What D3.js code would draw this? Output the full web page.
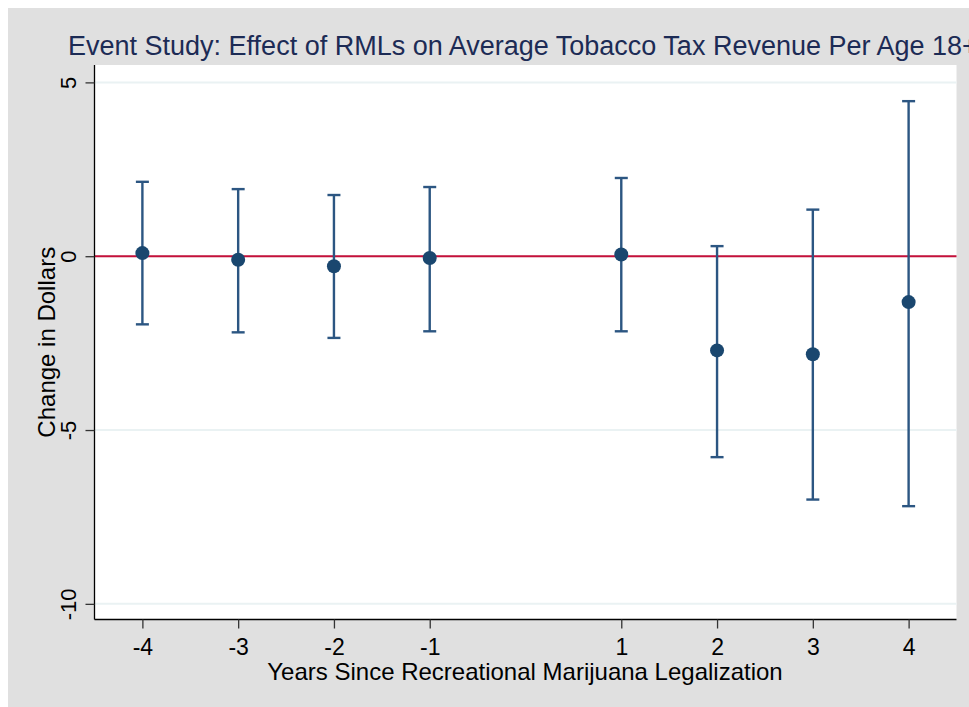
<!DOCTYPE html>
<html>
<head>
<meta charset="utf-8">
<script src="https://cdn.jsdelivr.net/npm/d3@7"></script>
<style>
  body { margin: 0; background: #ffffff; }
  svg { display: block; }
  text { font-family: "Liberation Sans", Arial, Helvetica, sans-serif; }
</style>
</head>
<body>
<svg id="chart" width="969" height="707"></svg>
<script>
// Event-study coefficients with 95% confidence intervals
const years     = [-4, -3, -2, -1, 1, 2, 3, 4];
const estimates = [0.09, -0.10, -0.29, -0.05, 0.05, -2.71, -2.82, -1.32];
const ciLower   = [-1.96, -2.19, -2.35, -2.16, -2.16, -5.78, -7.00, -7.19];
const ciUpper   = [2.14, 1.93, 1.76, 1.99, 2.25, 0.29, 1.34, 4.46];

const yTickValues = [5, 0, -5, -10];
const xTickValues = [-4, -3, -2, -1, 1, 2, 3, 4];

const titleText  = "Event Study: Effect of RMLs on Average Tobacco Tax Revenue Per Age 18+";
const xAxisTitle = "Years Since Recreational Marijuana Legalization";
const yAxisTitle = "Change in Dollars";

const points = years.map((yr, i) => ({ yr, est: estimates[i], lo: ciLower[i], hi: ciUpper[i] }));

const svg = d3.select("#chart");
const W = 969, H = 707;
const plot = { left: 94.5, right: 956.5, top: 65, bottom: 619.5 };

const x = d3.scaleLinear().domain([-4.5, 4.5]).range([plot.left, plot.right]);
const y = d3.scaleLinear().domain([-10.45, 5.5]).range([plot.bottom, plot.top]);

const navy = "#1a476f";
const ciColor = "#2c5682";
const plainInt = d => String(d);   // hyphen-minus, as in the axis labels

// outer graph region
svg.append("rect").attr("x", 8).attr("y", 8).attr("width", W - 8).attr("height", H - 8)
  .attr("fill", "#e0e0e0");

// plot region
svg.append("rect").attr("x", plot.left).attr("y", plot.top)
  .attr("width", plot.right - plot.left).attr("height", plot.bottom - plot.top)
  .attr("fill", "#ffffff");

// horizontal grid lines
svg.append("g").selectAll("line").data(yTickValues).join("line")
  .attr("x1", plot.left).attr("x2", plot.right)
  .attr("y1", d => y(d)).attr("y2", d => y(d))
  .attr("stroke", "#eaf2f3").attr("stroke-width", 2);

// reference line at zero
svg.append("line")
  .attr("x1", plot.left).attr("x2", plot.right)
  .attr("y1", y(0)).attr("y2", y(0))
  .attr("stroke", "#c5103a").attr("stroke-width", 2);

// confidence interval caps and spikes
const ci = svg.append("g").attr("stroke", ciColor).attr("stroke-width", 2.4);
const capHalf = 6.5;
ci.selectAll("line.spike").data(points).join("line").attr("class", "spike")
  .attr("x1", d => x(d.yr)).attr("x2", d => x(d.yr))
  .attr("y1", d => y(d.hi)).attr("y2", d => y(d.lo));
ci.selectAll("line.capHi").data(points).join("line").attr("class", "capHi")
  .attr("x1", d => x(d.yr) - capHalf).attr("x2", d => x(d.yr) + capHalf)
  .attr("y1", d => y(d.hi)).attr("y2", d => y(d.hi));
ci.selectAll("line.capLo").data(points).join("line").attr("class", "capLo")
  .attr("x1", d => x(d.yr) - capHalf).attr("x2", d => x(d.yr) + capHalf)
  .attr("y1", d => y(d.lo)).attr("y2", d => y(d.lo));

// point estimates
svg.append("g").selectAll("circle").data(points).join("circle")
  .attr("cx", d => x(d.yr)).attr("cy", d => y(d.est)).attr("r", 7)
  .attr("fill", navy);

// y axis
const yAxis = svg.append("g").attr("transform", `translate(${plot.left},0)`)
  .call(d3.axisLeft(y).tickValues(yTickValues).tickFormat(plainInt).tickSize(9).tickSizeOuter(0));
yAxis.select(".domain").attr("stroke", "#000").attr("stroke-width", 1.3)
  .attr("d", `M0,${plot.top}V${plot.bottom}`);
yAxis.selectAll(".tick line").attr("stroke", "#333").attr("stroke-width", 1.3);
yAxis.selectAll(".tick text")
  .attr("x", null).attr("dy", null)
  .attr("transform", "translate(-19,0) rotate(-90)")
  .attr("text-anchor", "middle")
  .attr("font-size", 22).attr("fill", "#000")
  .style("font-family", "'Liberation Sans', Arial, sans-serif");

// x axis
const xAxis = svg.append("g").attr("transform", `translate(0,${plot.bottom})`)
  .call(d3.axisBottom(x).tickValues(xTickValues).tickFormat(plainInt).tickSize(9).tickSizeOuter(0));
xAxis.select(".domain").attr("stroke", "#000").attr("stroke-width", 1.3)
  .attr("d", `M${plot.left},0H${plot.right}`);
xAxis.selectAll(".tick line").attr("stroke", "#333").attr("stroke-width", 1.3);
xAxis.selectAll(".tick text")
  .attr("y", 35).attr("dy", null)
  .attr("font-size", 23).attr("fill", "#000")
  .style("font-family", "'Liberation Sans', Arial, sans-serif");

// axis titles
svg.append("text")
  .attr("x", 525).attr("y", 680)
  .attr("text-anchor", "middle").attr("font-size", 24).attr("fill", "#000")
  .text(xAxisTitle);

svg.append("text")
  .attr("transform", `translate(55,${(plot.top + plot.bottom) / 2}) rotate(-90)`)
  .attr("text-anchor", "middle").attr("font-size", 24).attr("fill", "#000")
  .text(yAxisTitle);

// chart title (runs past the right edge)
svg.append("text")
  .attr("x", 68).attr("y", 55)
  .attr("font-size", 27).attr("fill", "#1c2b55")
  .text(titleText);
</script>
</body>
</html>
